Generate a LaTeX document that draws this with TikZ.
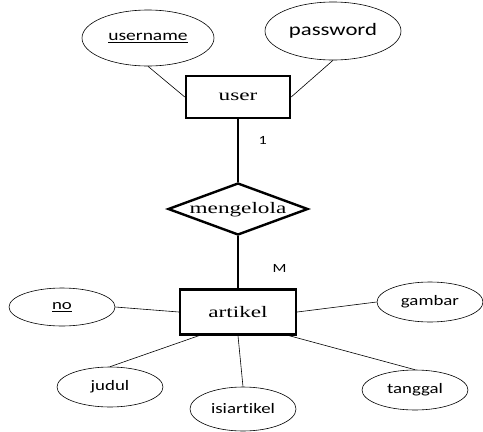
\documentclass[tikz,border=0pt]{standalone}
\usepackage{fontspec}
\setmainfont[FakeStretch=1.45]{Liberation Serif}
\newfontfamily\attrfont[Ligatures=CommonOff, FakeStretch=1.3]{Carlito}
\usetikzlibrary{shapes.geometric}

\begin{document}
\begin{tikzpicture}[x=1pt,y=-1pt,
    entity/.style={draw, line width=2.4pt, rectangle, inner sep=0pt, font=\fontsize{16}{19}\selectfont},
    attr/.style={draw, line width=0.6pt, ellipse, inner sep=0pt, font=\attrfont\fontsize{14.5}{17}\selectfont},
    rel/.style={draw, line width=2.4pt, diamond, aspect=2.65, inner sep=0pt, text height=8pt, text depth=0pt, font=\fontsize{16}{19}\selectfont},
    link/.style={line width=0.6pt},
    heavy/.style={line width=2.8pt},
    card/.style={font=\attrfont\fontsize{12.5}{15}\selectfont}]
            \useasboundingbox (0,0) rectangle (483,432);

            % entitas user
            \node[entity, minimum width=104pt, minimum height=42pt] (user) at (238,97) {user};
            \node[attr, minimum width=132pt, minimum height=56pt, font=\attrfont\fontsize{15}{17}\selectfont] (username) at (148,38) {\underline{username}};
            \node[attr, minimum width=136pt, minimum height=58pt, font=\attrfont\fontsize{17.5}{20}\selectfont] (password) at (333,31) {password};

            % relasi
            \node[rel, minimum width=140pt, minimum height=52pt] (mengelola) at (238,209) {mengelola};

            % entitas artikel
            \node[entity, minimum width=116pt, minimum height=45pt] (artikel) at (238,312) {artikel};
            \node[attr, minimum width=106pt, minimum height=38pt] (no) at (62,307) {\underline{no}};
            \node[attr, minimum width=106pt, minimum height=40pt] (gambar) at (430,302) {gambar};
            \node[attr, minimum width=106pt, minimum height=40pt] (judul) at (110,387) {judul};
            \node[attr, minimum width=106pt, minimum height=44pt] (isiartikel) at (243,409) {isiartikel};
            \node[attr, minimum width=106pt, minimum height=40pt] (tanggal) at (415,390) {tanggal};

            \draw[link] (username.south) -- (user.west);
            \draw[link] (password.south) -- (user.east);
            \draw[heavy] (user.south) -- node[card, right=16pt, yshift=10pt] {1} (mengelola.north);
            \draw[heavy] (mengelola.south) -- node[card, right=30pt, yshift=-6pt] {M} (artikel.north);
            \draw[link] (no.east) -- (artikel.west);
            \draw[link] (gambar.west) -- (artikel.east);
            \draw[link] (judul.north) -- ([xshift=20pt]artikel.south west);
            \draw[link] (isiartikel.north) -- (artikel.south);
            \draw[link] (tanggal.north) -- ([xshift=-8pt]artikel.south east);
        \end{tikzpicture}
\end{document}
